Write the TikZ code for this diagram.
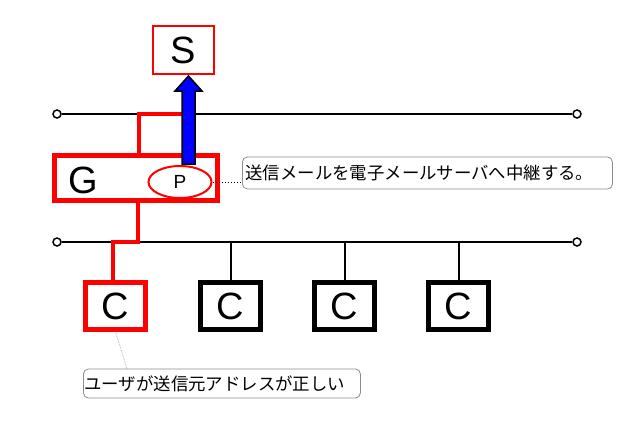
\documentclass[tikz,border=0pt]{standalone}
\usepackage{fontspec}
\setmainfont{Liberation Sans}
\newfontfamily\jp{Noto Sans CJK JP}
\usetikzlibrary{arrows.meta,positioning,shapes.geometric}
\definecolor{linkred}{HTML}{FF0000}
\definecolor{relayblue}{HTML}{0000FF}
\definecolor{notegray}{HTML}{8C8C8C}

\begin{document}
\begin{tikzpicture}[x=1pt,y=-1pt,
  hostbox/.style={draw,line width=4.5pt,fill=white,minimum width=60pt,minimum height=47pt,inner sep=0pt,font=\fontsize{38}{38}\selectfont},
  redhost/.style={hostbox,draw=linkred},
  bus/.style={draw=black,line width=2pt},
  stem/.style={draw=black,line width=2pt},
  redlink/.style={draw=linkred,line width=4pt},
  endpt/.style={circle,draw=black,line width=1.5pt,fill=white,minimum size=8pt,inner sep=0pt},
  note/.style={draw=notegray,rounded corners=5pt,line width=.8pt,inner sep=0pt,font=\jp\fontsize{17.4}{17.4}\selectfont},
  lead/.style={draw=black,dotted,line width=1pt}
]
\useasboundingbox (0,0) rectangle (634,420);
% buses
\node[endpt] (t1) at (57,114) {};
\node[endpt] (t2) at (577,114) {};
\node[endpt] (b1) at (57,242) {};
\node[endpt] (b2) at (577,242) {};
\draw[bus] (t1) -- (t2);
\draw[bus] (b1) -- (b2);
% server and gateway
\node[draw=linkred,line width=2.5pt,fill=white,minimum width=61pt,minimum height=48pt,inner sep=0pt,font=\fontsize{38}{38}\selectfont] (s) at (183.5,50) {S};
\node[draw=linkred,line width=5pt,fill=white,minimum width=163pt,minimum height=45pt] (g) at (136,178) {};
\node[font=\fontsize{38}{38}\selectfont] (glabel) at (83,180) {G};
\node[ellipse,draw=linkred,line width=2pt,minimum width=63pt,minimum height=32pt,inner sep=0pt,font=\fontsize{19}{19}\selectfont] (p) at (180,182) {P};
\draw[redlink] (g.north -| 139,0) -- (139,114) -- (187,114);
\draw[redlink] (g.south -| 138,0) -- (138,242) -- (113,242) -- (113,281);
% clients
\node[redhost] (c1) at (115.5,306) {C};
\foreach \name/\x in {c2/230.5,c3/344.5,c4/458.5} {
  \node[hostbox] (\name) at (\x,306) {C};
  \draw[stem] (\name.north) -- (\name.north |- b1);
}
% relay arrow
\draw[fill=relayblue,line width=1.5pt,line join=miter]
  (182,164) -- (182,91) -- (175,91) -- (188.5,76) -- (202,91) -- (195,91) -- (195,164) -- cycle;
% notes
\node[note,minimum width=370pt,minimum height=32pt,anchor=west,text width=364pt,align=left] (n1) at (242,173) {送信メールを電子メールサーバへ中継する。};
\draw[lead] (p.east) -- (p.east -| n1.west);
\node[note,minimum width=277pt,minimum height=29pt,anchor=west,text width=275pt,align=left] (n2) at (83,383.5) {ユーザが送信元アドレスが正しい};
\coordinate (n2top) at (127,369);
\draw[notegray,densely dotted,line width=.6pt] (c1.south) -- (n2top);
\end{tikzpicture}
\end{document}
